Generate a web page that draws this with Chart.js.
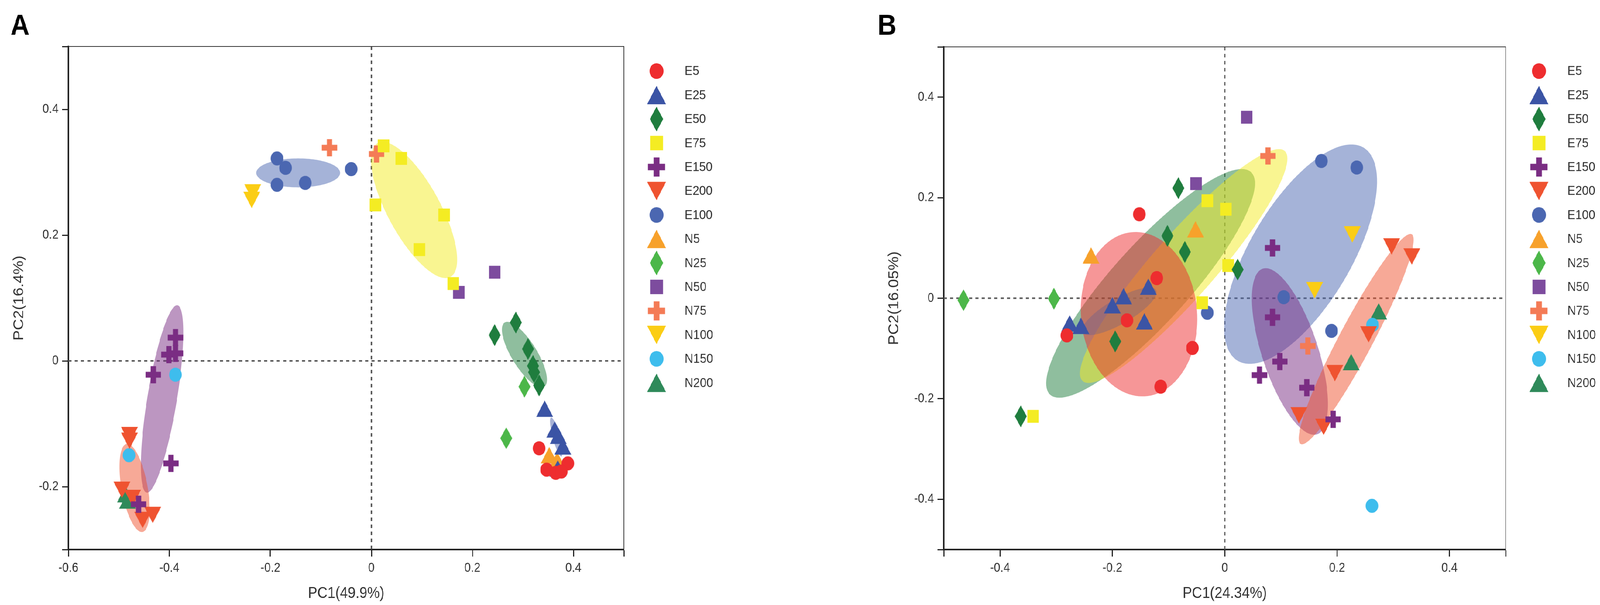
<!DOCTYPE html>
<html>
<head>
<meta charset="utf-8">
<script src="https://cdn.jsdelivr.net/npm/chart.js@4.4.1/dist/chart.umd.min.js"></script>
<style>
  html, body { margin: 0; padding: 0; background: #fff; overflow: hidden; }
  #viewport { position: relative; overflow: hidden; width: 4562px; height: 1549px; }
  #stage { position: absolute; left: 0; top: 0; width: 4562px; height: 1549px; transform-origin: 0 0; }
  .panel { position: absolute; top: 0; width: 2281px; height: 1549px; }
  #panelA { left: 0; }
  #panelB { left: 2281px; }
</style>
</head>
<body>
<div id="viewport">
  <div id="stage">
    <div class="panel" id="panelA"><canvas id="chartA" width="2281" height="1549"></canvas></div>
    <div class="panel" id="panelB"><canvas id="chartB" width="2281" height="1549"></canvas></div>
  </div>
</div>
<script>
// Grupos (mismo orden que la leyenda)
const groups = ['E5', 'E25', 'E50', 'E75', 'E150', 'E200', 'E100', 'N5', 'N25', 'N50', 'N75', 'N100', 'N150', 'N200'];
const groupColors = ['#ee2d2f', '#3b54a5', '#1f7d3e', '#f4ec23', '#7a2d83', '#ef5330', '#4b67b1',
                     '#f7a12b', '#4cb749', '#7d4c9e', '#f47b56', '#fbcd15', '#3ebded', '#2f8a5a'];
const groupShapes = ['circle', 'triUp', 'diamond', 'square', 'plus', 'triDown', 'circle',
                     'triUp', 'diamond', 'square', 'plus', 'triDown', 'circle', 'triUp'];

// Panel A - coordenadas PC1 / PC2
const a_E5   = [[0.332, -0.139], [0.347, -0.173], [0.365, -0.178], [0.389, -0.163], [0.376, -0.176]];
const a_E25  = [[0.343, -0.076], [0.363, -0.109], [0.370, -0.119], [0.379, -0.136], [0.369, -0.171]];
const a_E50  = [[0.244, 0.041], [0.286, 0.061], [0.310, 0.019], [0.320, -0.008], [0.322, -0.018], [0.332, -0.039]];
const a_E75  = [[0.024, 0.342], [0.059, 0.322], [0.008, 0.248], [0.144, 0.232], [0.095, 0.177], [0.162, 0.123]];
const a_E150 = [[-0.388, 0.037], [-0.401, 0.010], [-0.388, 0.012], [-0.432, -0.022], [-0.397, -0.163], [-0.461, -0.228]];
const a_E200 = [[-0.479, -0.118], [-0.479, -0.127], [-0.494, -0.205], [-0.473, -0.218], [-0.453, -0.253], [-0.433, -0.245]];
const a_E100 = [[-0.187, 0.322], [-0.170, 0.307], [-0.187, 0.280], [-0.131, 0.283], [-0.040, 0.305]];
const a_N5   = [[0.352, -0.150], [0.368, -0.158]];
const a_N25  = [[0.303, -0.041], [0.267, -0.123]];
const a_N50  = [[0.244, 0.141], [0.173, 0.109]];
const a_N75  = [[-0.083, 0.339], [0.010, 0.329]];
const a_N100 = [[-0.235, 0.268], [-0.237, 0.256]];
const a_N150 = [[-0.388, -0.022], [-0.480, -0.150]];
const a_N200 = [[-0.487, -0.212], [-0.483, -0.222]];
const seriesA = [a_E5, a_E25, a_E50, a_E75, a_E150, a_E200, a_E100, a_N5, a_N25, a_N50, a_N75, a_N100, a_N150, a_N200];

// Elipses A: grupo, centro x, centro y, semieje u (x, y), semieje v (x, y)
const ellipsesA = [
    ['E100', -0.145, 0.299, 0.083, 0, 0, 0.023],
    ['E75', 0.0845, 0.240, 0.0736, -0.1056, 0.0431, 0.024],
    ['E50', 0.303, 0.010, 0.0399, -0.0506, 0.0199, 0.0125],
    ['E25', 0.366, -0.121, 0.0104, -0.031, 0.0067, 0.0018],
    ['E5', 0.363, -0.169, 0.025, 0, 0, 0.011],
    ['E150', -0.4145, -0.0605, 0.0306, 0.149, 0.0287, -0.0047],
    ['E200', -0.469, -0.202, -0.016, 0.070, 0.0252, 0.0046]
];
const xBoundsA = [-0.6, 0.5];
const yBoundsA = [-0.3, 0.5];
const xTicksA = [-0.6, -0.4, -0.2, 0, 0.2, 0.4];
const yTicksA = [-0.2, 0, 0.2, 0.4];

// Panel B
const b_E5   = [[-0.152, 0.167], [-0.121, 0.040], [-0.174, -0.044], [-0.281, -0.074], [-0.0575, -0.099], [-0.114, -0.176]];
const b_E25  = [[-0.276, -0.050], [-0.256, -0.055], [-0.200, -0.014], [-0.180, 0.004], [-0.136, 0.023], [-0.143, -0.046]];
const b_E50  = [[-0.0825, 0.219], [-0.102, 0.124], [-0.071, 0.092], [0.023, 0.057], [-0.195, -0.086], [-0.363, -0.235]];
const b_E75  = [[-0.031, 0.194], [0.002, 0.177], [0.006, 0.065], [-0.040, -0.009], [-0.341, -0.235]];
const b_E150 = [[0.085, 0.100], [0.085, -0.038], [0.098, -0.126], [0.062, -0.153], [0.146, -0.178], [0.193, -0.241]];
const b_E200 = [[0.297, 0.103], [0.333, 0.083], [0.256, -0.072], [0.196, -0.149], [0.132, -0.233], [0.176, -0.256]];
const b_E100 = [[0.172, 0.273], [0.235, 0.260], [0.105, 0.002], [0.190, -0.065], [-0.031, -0.029]];
const b_N5   = [[-0.052, 0.137], [-0.238, 0.085]];
const b_N25  = [[-0.465, -0.004], [-0.304, -0.001]];
const b_N50  = [[0.039, 0.360], [-0.051, 0.228]];
const b_N75  = [[0.077, 0.283], [0.148, -0.095]];
const b_N100 = [[0.227, 0.127], [0.160, 0.016]];
const b_N150 = [[0.263, -0.053], [0.262, -0.413]];
const b_N200 = [[0.274, -0.026], [0.225, -0.127]];
const seriesB = [b_E5, b_E25, b_E50, b_E75, b_E150, b_E200, b_E100, b_N5, b_N25, b_N50, b_N75, b_N100, b_N150, b_N200];

const ellipsesB = [
    ['E50', -0.132, 0.0295, 0.180, 0.220, 0.046, -0.058],
    ['E75', -0.073, 0.064, 0.1806, 0.228, 0.0379, -0.0462],
    ['E5', -0.1525, -0.0318, -0.0156, 0.1628, 0.1025, 0.0151],
    ['E25', -0.1875, -0.026, 0.0656, 0.0415, 0.0094, -0.0228],
    ['E100', 0.135, 0.0876, 0.1156, 0.2093, 0.0719, -0.062],
    ['E150', 0.116, -0.106, 0.0494, -0.1643, 0.0463, 0.0214],
    ['E200', 0.234, -0.0814, 0.0991, 0.2085, 0.0251, -0.0183]
];
const xBoundsB = [-0.5, 0.5];
const yBoundsB = [-0.5, 0.5];
const xTicksB = [-0.4, -0.2, 0, 0.2, 0.4];
const yTicksB = [-0.4, -0.2, 0, 0.2, 0.4];

// Transparencia de las elipses
const ellipseAlpha = { E5: 0.5, E25: 0.45, E50: 0.5, E75: 0.5, E100: 0.5, E150: 0.5, E200: 0.5 };
const ellipseAlphaOverride = { A_E5: 0.3, B_E25: 0.25 };

// Ajustar el lienzo de 4562x1549 a la ventana real
const fitX = window.innerWidth / 4562;
const fitY = window.innerHeight / 1549;
const viewport = document.getElementById('viewport');
viewport.style.width = window.innerWidth + 'px';
viewport.style.height = window.innerHeight + 'px';
document.getElementById('stage').style.transform = 'scale(' + fitX + ', ' + fitY + ')';

Chart.defaults.font.family = "'Liberation Sans', Arial, sans-serif";
Chart.defaults.color = '#333';

function hexToRgba(hex, a) {
    const n = parseInt(hex.slice(1), 16);
    return `rgba(${(n >> 16) & 255}, ${(n >> 8) & 255}, ${n & 255}, ${a})`;
}

// Marcadores dibujados en un canvas propio
function makeMarker(shape, color, k) {
    const sizes = { circle: [36, 36], triUp: [48, 42], triDown: [48, 42], diamond: [34, 56], square: [33, 33], plus: [44, 44] };
    const w = Math.round(sizes[shape][0] * k);
    const h = Math.round(sizes[shape][1] * k);
    const c = document.createElement('canvas');
    c.width = w + 2;
    c.height = h + 2;
    const g = c.getContext('2d');
    g.translate(1, 1);
    g.fillStyle = color;
    g.beginPath();
    if (shape === 'circle') {
        g.arc(w / 2, h / 2, w / 2, 0, Math.PI * 2);
    } else if (shape === 'triUp') {
        g.moveTo(w / 2, 0); g.lineTo(w, h); g.lineTo(0, h);
    } else if (shape === 'triDown') {
        g.moveTo(0, 0); g.lineTo(w, 0); g.lineTo(w / 2, h);
    } else if (shape === 'diamond') {
        g.moveTo(w / 2, 0); g.lineTo(w, h / 2); g.lineTo(w / 2, h); g.lineTo(0, h / 2);
    } else if (shape === 'square') {
        g.rect(0, 0, w, h);
    } else if (shape === 'plus') {
        const t = w * 0.34;
        g.rect((w - t) / 2, 0, t, h);
        g.rect(0, (h - t) / 2, w, t);
    }
    g.closePath();
    g.fill();
    return c;
}

const plotMarkers = groups.map((g, i) => makeMarker(groupShapes[i], groupColors[i], 1));
const legendMarkers = groups.map((g, i) => makeMarker(groupShapes[i], groupColors[i], 1.12));

const pcaDecor = {
    id: 'pcaDecor',
    beforeDatasetsDraw(chart, args, opts) {
        const { ctx, chartArea: a, scales: { x, y } } = chart;
        ctx.save();
        ctx.beginPath();
        ctx.rect(a.left, a.top, a.right - a.left, a.bottom - a.top);
        ctx.clip();

        // Líneas de referencia en 0
        ctx.strokeStyle = '#5a5a5a';
        ctx.lineWidth = 4;
        ctx.setLineDash([9, 9]);
        const x0 = x.getPixelForValue(0);
        const y0 = y.getPixelForValue(0);
        ctx.beginPath();
        ctx.moveTo(x0, a.top); ctx.lineTo(x0, a.bottom);
        ctx.moveTo(a.left, y0); ctx.lineTo(a.right, y0);
        ctx.stroke();
        ctx.setLineDash([]);

        // Elipses de confianza
        opts.ellipses.forEach(([grp, cx, cy, ux, uy, vx, vy]) => {
            const gi = groups.indexOf(grp);
            const key = opts.panel + '_' + grp;
            const alpha = ellipseAlphaOverride[key] !== undefined ? ellipseAlphaOverride[key] : ellipseAlpha[grp];
            ctx.fillStyle = hexToRgba(groupColors[gi], alpha);
            ctx.beginPath();
            for (let s = 0; s <= 120; s++) {
                const t = s / 120 * Math.PI * 2;
                const px = x.getPixelForValue(cx + ux * Math.cos(t) + vx * Math.sin(t));
                const py = y.getPixelForValue(cy + uy * Math.cos(t) + vy * Math.sin(t));
                if (s === 0) ctx.moveTo(px, py); else ctx.lineTo(px, py);
            }
            ctx.closePath();
            ctx.fill();
        });
        ctx.restore();
    },
    afterDraw(chart, args, opts) {
        const { ctx, chartArea: a } = chart;
        ctx.save();
        // Marco superior y derecho
        ctx.strokeStyle = '#333';
        ctx.lineWidth = 2;
        ctx.beginPath();
        ctx.moveTo(a.left, a.top);
        ctx.lineTo(a.right, a.top);
        ctx.lineTo(a.right, a.bottom);
        ctx.stroke();

        // Leyenda
        ctx.font = "34px 'Liberation Sans', Arial, sans-serif";
        ctx.fillStyle = '#333';
        ctx.textBaseline = 'middle';
        ctx.textAlign = 'left';
        groups.forEach((g, i) => {
            const yy = opts.legendY + i * opts.legendStep;
            const m = legendMarkers[i];
            ctx.drawImage(m, opts.legendX - m.width / 2, yy - m.height / 2);
            ctx.fillText(g, opts.legendTextX, yy + 1);
        });

        // Letra del panel
        ctx.font = "bold 75px 'Liberation Sans', Arial, sans-serif";
        ctx.fillStyle = '#000';
        ctx.textBaseline = 'alphabetic';
        ctx.fillText(opts.letter, opts.letterX, 89);
        ctx.restore();
    }
};

function fmt(v) {
    return String(Math.round(v * 10) / 10);
}

function buildPanel(canvasId, cfg) {
    const ctx = document.getElementById(canvasId);
    const datasets = groups.map((g, i) => ({
        label: g,
        data: cfg.series[i].map(([px, py]) => ({ x: px, y: py })),
        pointStyle: plotMarkers[i],
        pointRadius: 20,
        backgroundColor: groupColors[i],
        showLine: false
    }));
    const xAll = [cfg.xBounds[0]].concat(cfg.xTicks, [cfg.xBounds[1]]);
    const yAll = [cfg.yBounds[0]].concat(cfg.yTicks, [cfg.yBounds[1]]);
    const tickFont = { size: 33 };

    return new Chart(ctx, {
        type: 'scatter',
        data: { datasets: datasets },
        plugins: [pcaDecor],
        options: {
            responsive: false,
            devicePixelRatio: 1,
            animation: false,
            layout: { padding: { left: cfg.padLeft, right: cfg.padRight, top: cfg.padTop, bottom: 0 } },
            scales: {
                x: {
                    type: 'linear',
                    min: cfg.xBounds[0],
                    max: cfg.xBounds[1],
                    afterBuildTicks: (scale) => { scale.ticks = xAll.map(v => ({ value: v })); },
                    afterFit: (scale) => { scale.height = cfg.xAxisHeight; },
                    ticks: {
                        autoSkip: false,
                        maxRotation: 0,
                        padding: 10,
                        color: '#333',
                        font: tickFont,
                        callback: (v) => cfg.xTicks.includes(v) ? fmt(v) : ''
                    },
                    grid: { drawOnChartArea: false, drawTicks: true, tickLength: 18, tickWidth: 3, tickColor: '#222' },
                    border: { display: true, color: '#222', width: 4 },
                    title: { display: true, text: cfg.xTitle, color: '#333', font: { size: 40 }, padding: { top: 0, bottom: 5 } }
                },
                y: {
                    type: 'linear',
                    min: cfg.yBounds[0],
                    max: cfg.yBounds[1],
                    afterBuildTicks: (scale) => { scale.ticks = yAll.map(v => ({ value: v })); },
                    afterFit: (scale) => { scale.width = cfg.yAxisWidth; },
                    ticks: {
                        autoSkip: false,
                        padding: 10,
                        color: '#333',
                        font: tickFont,
                        callback: (v) => cfg.yTicks.includes(v) ? fmt(v) : ''
                    },
                    grid: { drawOnChartArea: false, drawTicks: true, tickLength: 18, tickWidth: 3, tickColor: '#222' },
                    border: { display: true, color: '#222', width: 4 },
                    title: { display: true, text: cfg.yTitle, color: '#333', font: { size: 40 }, padding: { top: cfg.yTitlePad, bottom: 0 } }
                }
            },
            plugins: {
                legend: { display: false },
                tooltip: { enabled: false },
                pcaDecor: {
                    panel: cfg.panel,
                    ellipses: cfg.ellipses,
                    legendX: cfg.legendX,
                    legendTextX: cfg.legendTextX,
                    legendY: 182,
                    legendStep: 61.4,
                    letter: cfg.panel,
                    letterX: cfg.letterX
                }
            }
        }
    });
}

buildPanel('chartA', {
    panel: 'A',
    series: seriesA,
    ellipses: ellipsesA,
    xBounds: xBoundsA, yBounds: yBoundsA,
    xTicks: xTicksA, yTicks: yTicksA,
    xTitle: 'PC1(49.9%)', yTitle: 'PC2(16.4%)',
    padLeft: 0, padRight: 502, padTop: 119,
    yAxisWidth: 195, xAxisHeight: 142, yTitlePad: 31,
    legendX: 1872, legendTextX: 1952,
    letterX: 30
});

buildPanel('chartB', {
    panel: 'B',
    series: seriesB,
    ellipses: ellipsesB,
    xBounds: xBoundsB, yBounds: yBoundsB,
    xTicks: xTicksB, yTicks: yTicksB,
    xTitle: 'PC1(24.34%)', yTitle: 'PC2(16.05%)',
    padLeft: 200, padRight: 269, padTop: 120,
    yAxisWidth: 210, xAxisHeight: 142, yTitlePad: 45,
    legendX: 2107, legendTextX: 2188,
    letterX: 221
});
</script>
</body>
</html>
